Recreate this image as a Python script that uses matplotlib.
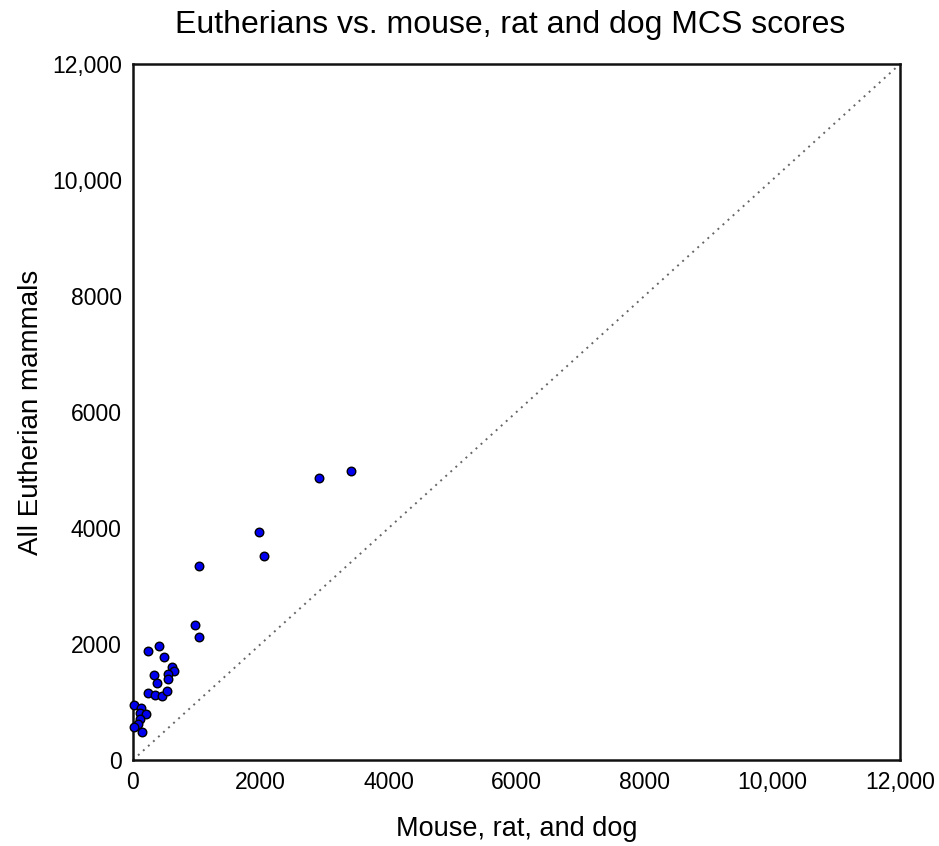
import matplotlib
matplotlib.use("Agg")
import matplotlib.pyplot as plt
from matplotlib.ticker import FuncFormatter

plt.rcParams['font.family'] = ['Liberation Sans', 'DejaVu Sans']

# MCS scores: mouse/rat/dog subset (x) vs. all Eutherian mammals (y)
mouse_rat_dog = [3411, 2910, 1967, 2054, 1033, 970, 1033, 402, 243, 485,
                 610, 641, 548, 329, 548, 375, 243, 340, 454, 532,
                 16, 125, 110, 211, 114, 78, 16, 149]
eutherians = [4982, 4862, 3936, 3522, 3349, 2332, 2125, 1965, 1874, 1784,
              1608, 1529, 1474, 1465, 1388, 1319, 1155, 1121, 1095, 1184,
              953, 896, 810, 793, 707, 612, 560, 483]

ticks = [0, 2000, 4000, 6000, 8000, 10000, 12000]
axis_max = 12000


def fmt(v, _pos):
    v = int(round(v))
    return f"{v:,}" if v >= 10000 else str(v)


fig = plt.figure(figsize=(9.39, 8.46), dpi=100)
ax = fig.add_axes([0.1416, 0.1017, 0.8169, 0.8226])

ax.plot([0, axis_max], [0, axis_max], linestyle=(0, (1, 2.5)), color='#666666',
        linewidth=1.4, zorder=1)
ax.scatter(mouse_rat_dog, eutherians, s=38, c='#0000ee', edgecolors='black',
           linewidths=1.0, zorder=3, clip_on=False)

ax.set_xlim(0, axis_max)
ax.set_ylim(0, axis_max)
ax.set_xticks(ticks)
ax.set_yticks(ticks)
ax.xaxis.set_major_formatter(FuncFormatter(fmt))
ax.yaxis.set_major_formatter(FuncFormatter(fmt))
ax.tick_params(length=0, labelsize=16.5, pad=8)
for s in ax.spines.values():
    s.set_linewidth(1.8)
    s.set_color('#111111')

ax.set_title("Eutherians vs. mouse, rat and dog MCS scores", fontsize=23, pad=22,
             x=0.492)
ax.set_xlabel("Mouse, rat, and dog", fontsize=19.5, labelpad=16)
ax.set_ylabel("All Eutherian mammals", fontsize=20, labelpad=6)

fig.savefig("out.png", dpi=100)
